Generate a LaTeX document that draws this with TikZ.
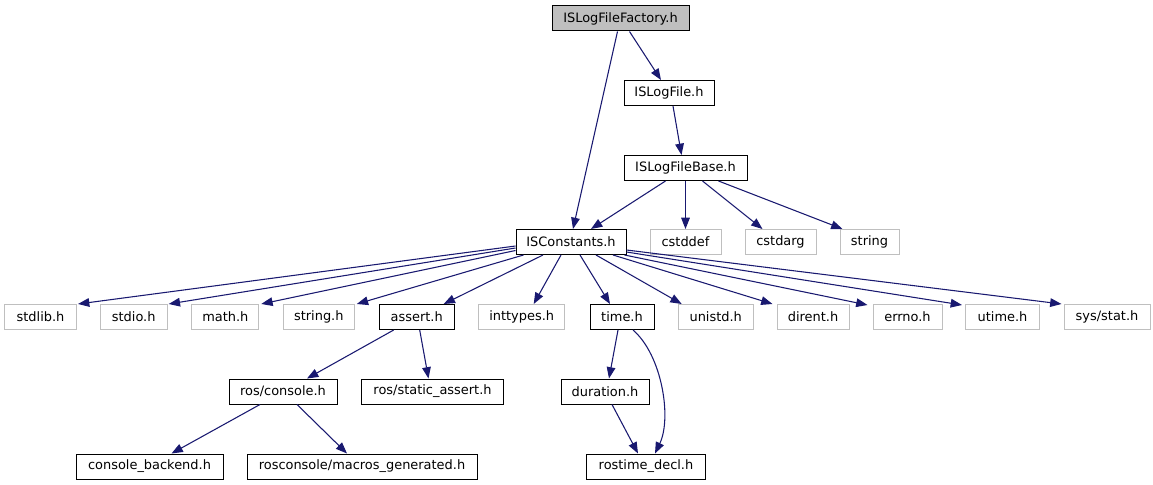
\documentclass[tikz,border=0pt]{standalone}
\usepackage{fontspec}
\setmainfont{DejaVu Sans}
\usetikzlibrary{arrows.meta,calc}
\definecolor{edgeblue}{HTML}{191970}
\definecolor{sysgray}{HTML}{BFBFBF}
\begin{document}
\begin{tikzpicture}[x=0.75pt,y=0.75pt,
  box/.style={draw=black, line width=0.75pt, minimum height=18.75pt, inner sep=0pt, font=\fontsize{9.7}{11}\selectfont},
  sysbox/.style={box, draw=sysgray},
  mainbox/.style={box, fill=sysgray},
  edge/.style={draw=edgeblue, line width=0.8pt, -{Triangle[length=8.5pt,width=6.5pt]}}]
\useasboundingbox (0,0) rectangle (1153,-485);
% row 0
\node[mainbox, minimum width=102.75pt] (fac) at (620.5,-18.5) {ISLogFileFactory.h};
% row 1
\node[box, minimum width=67.5pt] (logfile) at (669,-93) {ISLogFile.h};
% row 2
\node[box, minimum width=92.25pt] (base) at (685.5,-168) {ISLogFileBase.h};
% row 3
\node[box, minimum width=82.5pt] (const) at (571,-242) {ISConstants.h};
\node[sysbox, minimum width=53.25pt] (cstddef) at (685.5,-242) {cstddef};
\node[sysbox, minimum width=53.25pt] (cstdarg) at (780.5,-242) {cstdarg};
\node[sysbox, minimum width=44.25pt] (string) at (869.5,-242) {string};
% row 4
\node[sysbox, minimum width=54pt] (stdlib) at (40.5,-317) {stdlib.h};
\node[sysbox, minimum width=50.25pt] (stdio) at (133.7,-317) {stdio.h};
\node[sysbox, minimum width=50.25pt] (math) at (225.3,-317) {math.h};
\node[sysbox, minimum width=53.25pt] (stringh) at (318.8,-317) {string.h};
\node[box, minimum width=56.25pt] (assert) at (416.7,-317) {assert.h};
\node[sysbox, minimum width=64.5pt] (inttypes) at (521.7,-317) {inttypes.h};
\node[box, minimum width=48pt] (time) at (622,-317) {time.h};
\node[sysbox, minimum width=56.25pt] (unistd) at (715.7,-317) {unistd.h};
\node[sysbox, minimum width=54pt] (dirent) at (813,-317) {dirent.h};
\node[sysbox, minimum width=51.75pt] (errno) at (907.5,-317) {errno.h};
\node[sysbox, minimum width=55.5pt] (utime) at (1002.5,-317) {utime.h};
\node[sysbox, minimum width=64.5pt] (sysstat) at (1107,-317) {sys/stat.h};
% row 5
\node[box, minimum width=81pt] (roscon) at (283,-391.5) {ros/console.h};
\node[box, minimum width=106.5pt] (static) at (432.5,-391.5) {ros/static\_assert.h};
\node[box, minimum width=66pt] (duration) at (605,-391.5) {duration.h};
% row 6
\node[box, minimum width=110.25pt] (backend) at (149.5,-466.5) {console\_backend.h};
\node[box, minimum width=172.5pt] (macros) at (362,-466.5) {rosconsole/macros\_generated.h};
\node[box, minimum width=89.25pt] (rostime) at (646,-466.5) {rostime\_decl.h};
% edges
\draw[edge] ($(fac.south)+(9,0)$) -- ($(logfile.north)+(-8,0)$);
\draw[edge] ($(fac.south)+(-3,0)$) -- ($(const.north)+(2,0)$);
\draw[edge] ($(logfile.south)+(4,0)$) -- ($(base.north)+(-4,0)$);
\draw[edge] ($(base.south)+(-20,0)$) -- ($(const.north)+(20,0)$);
\draw[edge] (base.south) -- (cstddef.north);
\draw[edge] ($(base.south)+(17,0)$) -- ($(cstdarg.north)+(-18,0)$);
\draw[edge] ($(base.south)+(33,0)$) -- ($(string.north)+(-27,0)$);
\draw[edge] ($(const.west)+(0,-4)$) -- ($(stdlib.north east)+(1,0)$);
\draw[edge] ($(const.west)+(0,-6)$) -- ($(stdio.north east)+(1,0)$);
\draw[edge] ($(const.west)+(0,-8.5)$) -- ($(math.north east)+(2,0)$);
\draw[edge] ($(const.south west)+(8,0)$) -- ($(stringh.north east)+(2,0)$);
\draw[edge] ($(const.south)+(-28,0)$) -- ($(assert.north)+(27,0)$);
\draw[edge] ($(const.south)+(-10,0)$) -- ($(inttypes.north)+(12,0)$);
\draw[edge] ($(const.south)+(9,0)$) -- ($(time.north)+(-12,0)$);
\draw[edge] ($(const.south)+(25,0)$) -- ($(unistd.north)+(-34,0)$);
\draw[edge] ($(const.south)+(42,0)$) -- ($(dirent.north west)+(-4,0)$);
\draw[edge] ($(const.south east)+(-2,0)$) -- ($(errno.north west)+(-5,-1)$);
\draw[edge] ($(const.east)+(0,-10)$) -- ($(utime.north west)+(-3,-1)$);
\draw[edge] ($(const.east)+(0,-8)$) -- ($(sysstat.north west)+(-2,0)$);
\draw[edge] ($(assert.south)+(-23,0)$) -- ($(roscon.north)+(24,0)$);
\draw[edge] ($(assert.south)+(3,0)$) -- ($(static.north)+(-4,0)$);
\draw[edge] ($(roscon.south)+(-23,0)$) -- ($(backend.north)+(22,0)$);
\draw[edge] ($(roscon.south)+(14,0)$) -- ($(macros.north)+(-15,0)$);
\draw[edge] ($(time.south)+(-4,0)$) -- ($(duration.north)+(4,0)$);
\draw[edge] ($(time.south)+(11,0)$) .. controls (662,-355) and (672,-418) .. ($(rostime.north)+(9,0)$);
\draw[edge] ($(duration.south)+(7,0)$) -- ($(rostime.north)+(-8,0)$);
\end{tikzpicture}
\end{document}
